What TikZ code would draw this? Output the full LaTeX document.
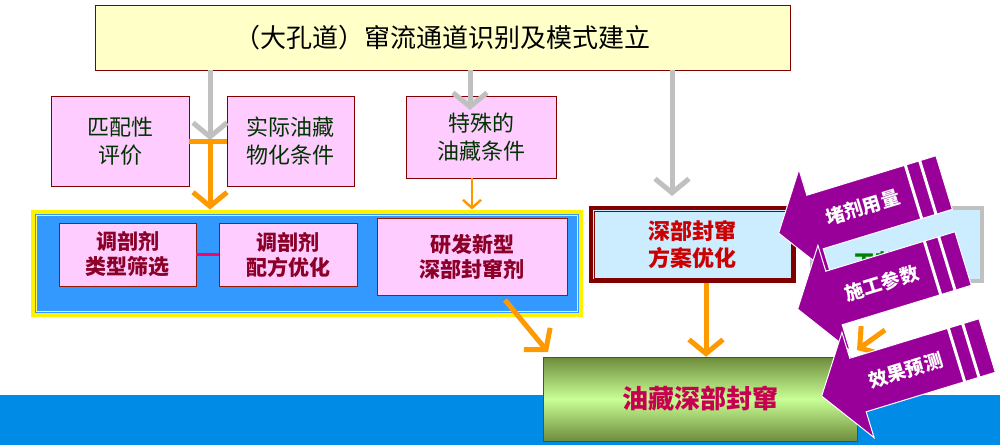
\documentclass[tikz,border=0pt]{standalone}
\usepackage{fontspec}
\setmainfont{Noto Sans CJK SC}
\usetikzlibrary{arrows.meta}
\definecolor{tyel}{RGB}{255,255,200}
\definecolor{dred}{RGB}{128,0,0}
\definecolor{pinkf}{RGB}{255,204,255}
\definecolor{txg}{RGB}{0,50,0}
\definecolor{txr}{RGB}{140,0,40}
\definecolor{bluef}{RGB}{51,153,255}
\definecolor{band}{RGB}{0,140,230}
\definecolor{org}{RGB}{255,153,0}
\definecolor{grayar}{RGB}{192,192,192}
\definecolor{lblue}{RGB}{204,236,255}
\definecolor{purp}{RGB}{153,0,153}
\tikzset{
 pinkbox/.style={draw=dred,fill=pinkf,align=center,text=txg,font=\fontsize{22}{28}\selectfont,inner sep=0pt},
 innerbox/.style={draw=dred!80!orange,fill=pinkf,align=center,text=txr,font=\fontsize{21}{25}\selectfont\bfseries,inner sep=0pt},
 grayarrow/.style={draw=grayar,line width=5pt,-{Straight Barb[length=14pt,width=34pt]}},
 orgarrow/.style={draw=org,line width=5pt,-{Straight Barb[length=14pt,width=34pt]}},
 smallorg/.style={draw=org,line width=2.5pt,-{Straight Barb[length=8pt,width=18pt]}},
}
\newcommand{\purparrow}[4]{%
 \begin{scope}[shift={(#1,#2)},rotate=17]
  \fill[purp,draw=white,line width=1pt] (-38,0) -- (0,-55) -- (0,-28) -- (135,-28) -- (135,28) -- (0,28) -- (0,55) -- cycle;
  \draw[white,line width=3pt] (103,-28) -- (103,28) (118,-28) -- (118,28);
  \node[text=white,font=\fontsize{19}{22}\selectfont\bfseries,rotate=17] (#4) at (50,0) {#3};
 \end{scope}}
\begin{document}
\begin{tikzpicture}[x=1pt,y=-1pt]
\useasboundingbox (0,0) rectangle (1000,445);
\fill[white] (0,0) rectangle (1000,445);
\fill[band] (0,395) rectangle (1000,445);
% title
\node[draw=dred,fill=tyel,minimum width=695pt,minimum height=65pt,font=\fontsize{26}{30}\selectfont,text=black] (title) at (442.5,37.5) {（大孔道）窜流通道识别及模式建立};
% pink boxes
\node[pinkbox,minimum width=138pt,minimum height=90pt] (pp) at (120,141) {匹配性\\评价};
\node[pinkbox,minimum width=127pt,minimum height=90pt] (sj) at (290.5,141) {实际油藏\\物化条件};
\node[pinkbox,minimum width=150pt,minimum height=82pt] (ts) at (481,137) {特殊的\\油藏条件};
% blue container
\node[draw=yellow,line width=4pt,fill=bluef,minimum width=548pt,minimum height=103pt] (blue) at (306.5,263) {};
\draw[yellow!60!white,line width=0.6pt] (36,215) rectangle (577,311);
\node[innerbox,minimum width=137pt,minimum height=63pt] (lx) at (127.5,254.5) {调剖剂\\类型筛选};
\node[innerbox,minimum width=138pt,minimum height=63pt] (pf) at (288,254.5) {调剖剂\\配方优化};
\node[innerbox,minimum width=190pt,minimum height=77pt] (yf) at (472,256.5) {研发新型\\深部封窜剂};
\draw[draw={rgb,255:red,255;green,0;blue,102},line width=2.5pt] (lx.east) -- (pf.west);
% right boxes
\node[draw=dred,line width=4pt,fill=lblue,minimum width=203pt,minimum height=73pt] (fa) at (692.5,244.5) {};
\draw[dred,line width=0.8pt] (594,211) rectangle (791,278);
\node[align=center,text=red!80!black,font=\fontsize{22}{27}\selectfont\bfseries] (fat) at (692.5,244.5) {深部封窜\\方案优化};
\node[draw=grayar,line width=4pt,fill=lblue,minimum width=170pt,minimum height=73pt] (gy) at (897,244.5) {};
\node[text={rgb,255:red,0;green,130;blue,0},font=\fontsize{22}{27}\selectfont\bfseries] (gyt) at (897,262) {工艺技术};
% bottom green
\node[draw=black!70,top color={rgb,255:red,110;green,140;blue,60},bottom color={rgb,255:red,110;green,140;blue,60},middle color={rgb,255:red,200;green,255;blue,150},minimum width=314pt,minimum height=84pt,text={rgb,255:red,200;green,0;blue,80},font=\fontsize{26}{30}\selectfont\bfseries] (yc) at (700,399) {油藏深部封窜};
% gray arrows
\coordinate (g1) at (210,140); \coordinate (g2) at (470,110); \coordinate (g3) at (672,196);
\draw[grayarrow] (title.south -| g1) -- (g1);
\draw[grayarrow] (title.south -| g2) -- (g2);
\draw[grayarrow] (title.south -| g3) -- (g3);
% orange
\draw[org,line width=5pt] (pp.east |- 0,141) -- (sj.west |- 0,141);
\draw[orgarrow] (210,141) -- (blue.north -| 210,0);
\draw[smallorg] (ts.south -| 472,0) -- (blue.north -| 472,0);
\draw[orgarrow] (505,300) -- (548,352);
\draw[orgarrow] (fa.south -| 706,0) -- (yc.north -| 706,0);
\coordinate (sa) at (885,330);
\draw[orgarrow] (sa) -- (857,350);
% purple arrows
\purparrow{815}{222}{堵剂用量}{pa1}
\purparrow{834}{298}{施工参数}{pa2}
\purparrow{858}{385}{效果预测}{pa3}
\end{tikzpicture}
\end{document}
